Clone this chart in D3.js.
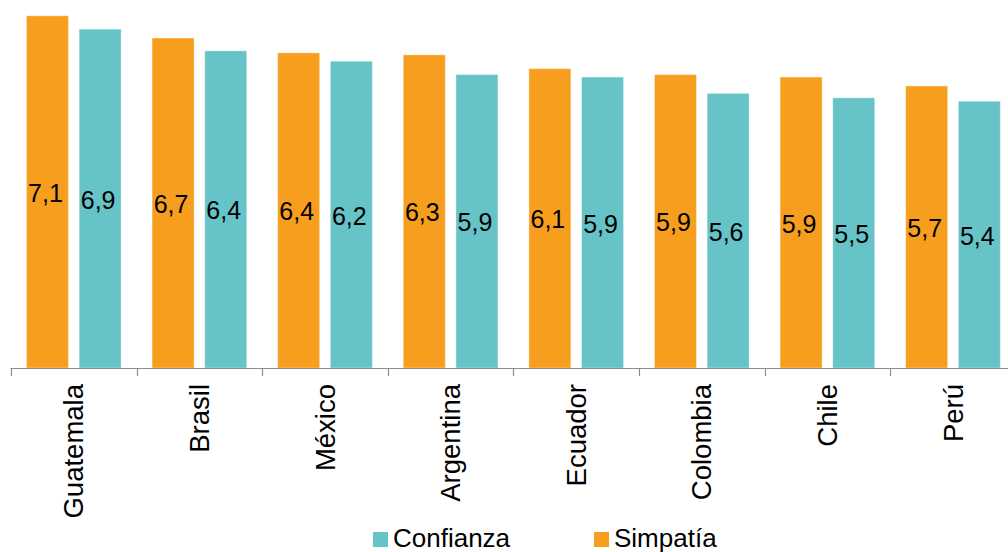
<!DOCTYPE html>
<html>
<head>
<meta charset="utf-8">
<script src="https://cdn.jsdelivr.net/npm/d3@7"></script>
<style>
  html, body { margin: 0; padding: 0; background: #fff; }
  svg { display: block; font-family: "Liberation Sans", Arial, sans-serif; }
</style>
</head>
<body>
<svg id="chart" width="1008" height="552"></svg>
<script>
const categories = ["Guatemala", "Brasil", "México", "Argentina", "Ecuador", "Colombia", "Chile", "Perú"];
const series = ["Simpatía", "Confianza"];
const simpatia = [7.13, 6.68, 6.38, 6.34, 6.06, 5.94, 5.89, 5.71];
const confianza = [6.86, 6.42, 6.21, 5.94, 5.89, 5.56, 5.47, 5.40];
const legendOrder = ["Confianza", "Simpatía"];
const colors = { "Simpatía": "#F89E1E", "Confianza": "#66C3C8" };

const svg = d3.select("#chart");
const baseY = 368;
const yMax = 7.45;

const x = d3.scaleBand().domain(categories).range([11, 11 + 8 * 125.6]).padding(0);
const xs = d3.scaleBand().domain(series).range([0, x.bandwidth()]).paddingInner(0.203).paddingOuter(0.294);
const y = d3.scaleLinear().domain([0, yMax]).range([baseY, 0]);

const data = categories.map((c, i) => ({ cat: c, vals: [
  { s: "Simpatía", v: simpatia[i] },
  { s: "Confianza", v: confianza[i] }
]}));

const fmt = v => d3.format(".1f")(v).replace(".", ",");

const g = svg.append("g");
const cg = g.selectAll("g.cat").data(data).join("g")
  .attr("transform", d => `translate(${x(d.cat)},0)`);

cg.selectAll("rect").data(d => d.vals).join("rect")
  .attr("x", d => xs(d.s))
  .attr("width", xs.bandwidth())
  .attr("y", d => y(d.v))
  .attr("height", d => y(0) - y(d.v))
  .attr("fill", d => colors[d.s])
  .attr("stroke", "rgba(255,255,255,0.35)")
  .attr("stroke-width", 1);

cg.selectAll("text.val").data(d => d.vals).join("text")
  .attr("class", "val")
  .attr("x", d => xs(d.s) + xs.bandwidth() / 2 - 2)
  .attr("y", d => (y(d.v) + y(0)) / 2 + 1)
  .attr("text-anchor", "middle")
  .attr("dominant-baseline", "central")
  .attr("font-size", 25)
  .attr("fill", "#000")
  .text(d => fmt(d.v));

// axis line
g.append("line")
  .attr("x1", 10.5).attr("x2", 1008)
  .attr("y1", baseY + 0.5).attr("y2", baseY + 0.5)
  .attr("stroke", "#8c8c8c").attr("stroke-width", 1.2);

// boundary ticks
const bounds = categories.map(c => x(c));
g.selectAll("line.tick").data(bounds).join("line")
  .attr("class", "tick")
  .attr("x1", d => Math.round(d) + 0.5).attr("x2", d => Math.round(d) + 0.5)
  .attr("y1", baseY).attr("y2", baseY + 8)
  .attr("stroke", "#8c8c8c").attr("stroke-width", 1.2);

// category labels
g.selectAll("text.cat").data(categories).join("text")
  .attr("class", "cat")
  .attr("transform", d => `translate(${x(d) + x.bandwidth() / 2},384) rotate(-90)`)
  .attr("text-anchor", "end")
  .attr("dominant-baseline", "central")
  .attr("font-size", 27.5)
  .attr("fill", "#000")
  .text(d => d);

// legend
const legendX = { "Confianza": 373, "Simpatía": 594 };
const lg = svg.selectAll("g.leg").data(legendOrder).join("g")
  .attr("class", "leg")
  .attr("transform", d => `translate(${legendX[d]},532)`);
lg.append("rect").attr("width", 15).attr("height", 15).attr("fill", d => colors[d]);
lg.append("text").attr("x", 20).attr("y", 14.5).attr("font-size", 26).attr("fill", "#000").text(d => d);
</script>
</body>
</html>
